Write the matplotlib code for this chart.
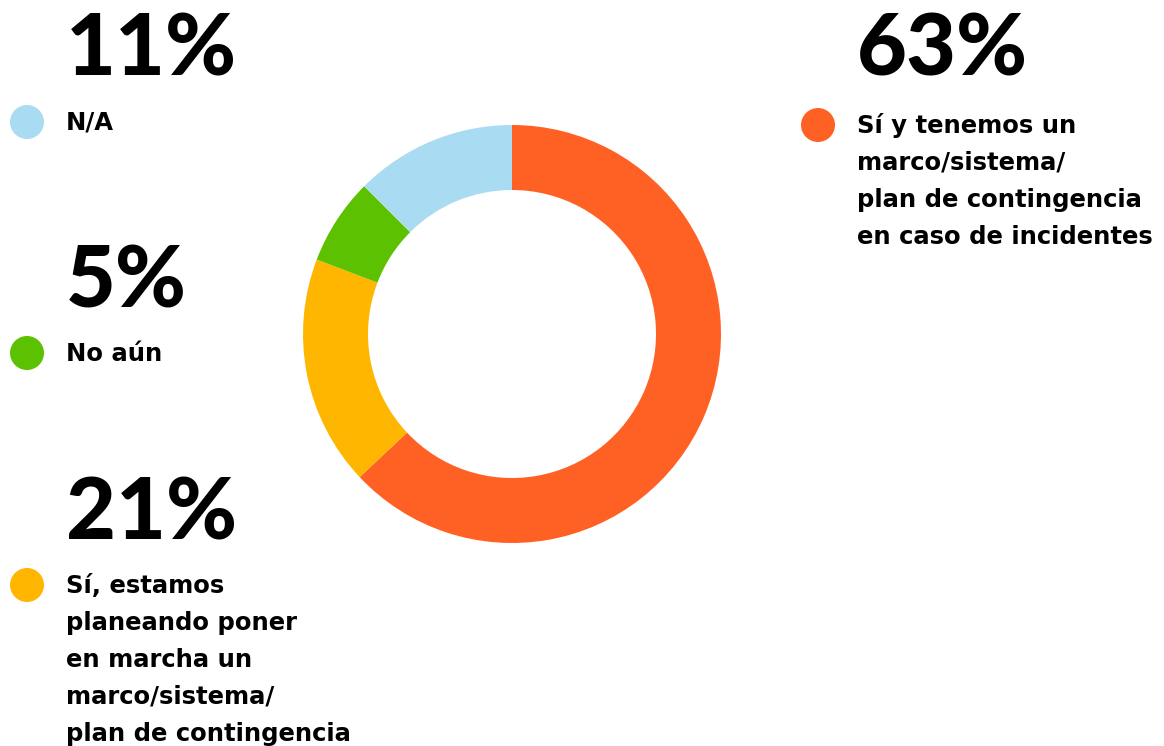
import matplotlib
matplotlib.use("Agg")
import matplotlib.pyplot as plt
from matplotlib.patches import Circle

# Data
categories = [
    "Sí y tenemos un\nmarco/sistema/\nplan de contingencia\nen caso de incidentes",
    "Sí, estamos\nplaneando poner\nen marcha un\nmarco/sistema/\nplan de contingencia",
    "No aún",
    "N/A",
]
pct_labels = ["63%", "21%", "5%", "11%"]
slice_values = [63, 17.8, 6.7, 12.5]
colors = ["#FF6124", "#FFB600", "#5CC100", "#A9DCF2"]

W, H = 1164, 746
fig = plt.figure(figsize=(W / 100, H / 100), dpi=100)
ax = fig.add_axes([0, 0, 1, 1])

def py(y):
    return H - y

ax.pie(slice_values, colors=colors, startangle=90, counterclock=False,
       center=(512, py(334)), radius=209, frame=True,
       wedgeprops=dict(width=65, linewidth=0))
ax.set_xlim(0, W)
ax.set_ylim(0, H)
ax.set_aspect("equal")
ax.axis("off")

big_font = dict(family=["Lato", "DejaVu Sans"], fontweight="black", fontsize=62, color="black")
lab_font = dict(family=["DejaVu Sans"], fontweight="bold", fontsize=17.5, color="black")

# positions: (number x, number baseline, dot center, label baseline)
layout = {
    0: (857, 75, (818, 125), 133),
    1: (66, 540, (27, 585), 593),
    2: (66, 308, (27, 353), 361),
    3: (66, 75, (27, 122), 129),
}
for i in range(4):
    nx, nb, (cx, cy), lb = layout[i]
    ax.text(nx, py(nb), pct_labels[i], ha="left", va="baseline", **big_font)
    ax.add_patch(Circle((cx, py(cy)), 17, color=colors[i], linewidth=0))
    for k, line in enumerate(categories[i].split("\n")):
        ax.text(nx, py(lb + 37 * k), line, ha="left", va="baseline", **lab_font)

fig.savefig("out.png", dpi=100)
